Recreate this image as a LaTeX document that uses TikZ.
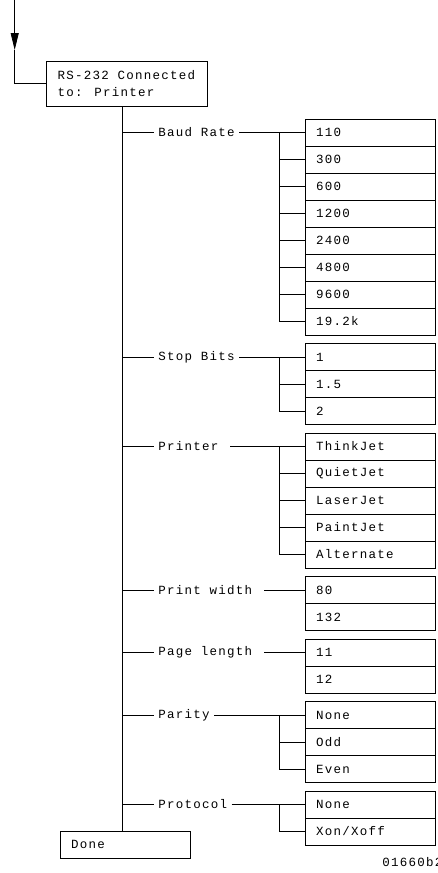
\documentclass[tikz,border=0pt]{standalone}
\usepackage{fontspec}
\usepackage{tikz}
\usetikzlibrary{arrows.meta,positioning}
\newfontfamily\hpfont[LetterSpace=10]{Liberation Mono}
\tikzset{
  hptext/.style={
    font={\hpfont\fontsize{12.5pt}{17pt}\selectfont}
  },
  menubox/.style={
    rectangle,
    draw,
    hptext,
    align=left,
    inner xsep=9pt,
    outer sep=0pt,
    minimum width=161pt,
    minimum height=45pt
  },
  optbox/.style={
    rectangle,
    draw,
    hptext,
    align=left,
    text width=108pt,
    inner xsep=11pt,
    inner ysep=0pt,
    outer sep=0pt,
    minimum height=27pt
  },
  branch/.style={hptext, anchor=west, inner xsep=4pt, inner ysep=0pt},
  entryarrow/.style={-{Triangle[length=17pt,width=8pt]}}
}

\begin{document}
\begin{tikzpicture}[x=1pt, y=1pt, line width=0.8pt]
  \useasboundingbox (0,0) rectangle (438,-873);
  \node[menubox, anchor=north west] (conn) at (46,-61) {RS-232 Connected\\to: Printer};
  \coordinate (entry) at (14.7,0);
  \coordinate (entrytip) at (14.7,-50);
  \coordinate (spinetop) at (122.7,-106);
  \coordinate (fork) at (279,0);
  % baud rate
  \node[optbox, anchor=north west] (b110) at (305,-119) {110};
  \node[optbox, below=0pt of b110] (b300) {300};
  \node[optbox, below=0pt of b300] (b600) {600};
  \node[optbox, below=0pt of b600] (b1200) {1200};
  \node[optbox, below=0pt of b1200] (b2400) {2400};
  \node[optbox, below=0pt of b2400] (b4800) {4800};
  \node[optbox, below=0pt of b4800] (b9600) {9600};
  \node[optbox, below=0pt of b9600] (b19k) {19.2k};
  % stop bits
  \node[optbox, below=8.5pt of b19k] (sb1) {1};
  \node[optbox, below=0pt of sb1] (sb15) {1.5};
  \node[optbox, below=0pt of sb15] (sb2) {2};
  % printer
  \node[optbox, below=8.5pt of sb2] (pthink) {ThinkJet};
  \node[optbox, below=0pt of pthink] (pquiet) {QuietJet};
  \node[optbox, below=0pt of pquiet] (plaser) {LaserJet};
  \node[optbox, below=0pt of plaser] (ppaint) {PaintJet};
  \node[optbox, below=0pt of ppaint] (palt) {Alternate};
  % print width, page length
  \node[optbox, below=8.5pt of palt] (pw80) {80};
  \node[optbox, below=0pt of pw80] (pw132) {132};
  \node[optbox, below=8.5pt of pw132] (pl11) {11};
  \node[optbox, below=0pt of pl11] (pl12) {12};
  % parity, protocol
  \node[optbox, below=8.5pt of pl12] (parnone) {None};
  \node[optbox, below=0pt of parnone] (parodd) {Odd};
  \node[optbox, below=0pt of parodd] (pareven) {Even};
  \node[optbox, below=8.5pt of pareven] (protnone) {None};
  \node[optbox, below=0pt of protnone] (protxon) {Xon/Xoff};
  \node[optbox, anchor=north west] (done) at (60,-831) {Done};
  % branch labels
  \node[branch] (baud) at (154,0 |- b110) {Baud Rate};
  \node[branch] (stopbits) at (154,0 |- sb1) {Stop Bits};
  \node[branch] (printer) at (154,0 |- pthink) {Printer\hphantom{x}};
  \node[branch] (printwidth) at (154,0 |- pw80) {Print width\hphantom{x}};
  \node[branch] (pagelength) at (154,0 |- pl11) {Page length\hphantom{x}};
  \node[branch] (parity) at (154,0 |- parnone) {Parity};
  \node[branch] (protocol) at (154,0 |- protnone) {Protocol};
  \node[hptext, anchor=west, inner sep=0pt] (figno) at (382,-862) {01660b2};
  % connectors
  \draw[entryarrow] (entry) -- (entrytip);
  \draw (entrytip) |- (conn);
  \draw (spinetop) -- (spinetop |- done.north);
  \draw (spinetop |- baud) -- (baud);
  \draw (spinetop |- stopbits) -- (stopbits);
  \draw (spinetop |- printer) -- (printer);
  \draw (spinetop |- printwidth) -- (printwidth);
  \draw (spinetop |- pagelength) -- (pagelength);
  \draw (spinetop |- parity) -- (parity);
  \draw (spinetop |- protocol) -- (protocol);
  \draw (baud) -- (b110);
  \draw (fork |- b110) |- (b19k);
  \draw (fork |- b300) -- (b300);
  \draw (fork |- b600) -- (b600);
  \draw (fork |- b1200) -- (b1200);
  \draw (fork |- b2400) -- (b2400);
  \draw (fork |- b4800) -- (b4800);
  \draw (fork |- b9600) -- (b9600);
  \draw (stopbits) -- (sb1);
  \draw (fork |- sb1) |- (sb2);
  \draw (fork |- sb15) -- (sb15);
  \draw (printer) -- (pthink);
  \draw (fork |- pthink) |- (palt);
  \draw (fork |- pquiet) -- (pquiet);
  \draw (fork |- plaser) -- (plaser);
  \draw (fork |- ppaint) -- (ppaint);
  \draw (printwidth) -- (pw80);
  \draw (pagelength) -- (pl11);
  \draw (parity) -- (parnone);
  \draw (fork |- parnone) |- (pareven);
  \draw (fork |- parodd) -- (parodd);
  \draw (protocol) -- (protnone);
  \draw (fork |- protnone) |- (protxon);
\end{tikzpicture}
\end{document}
